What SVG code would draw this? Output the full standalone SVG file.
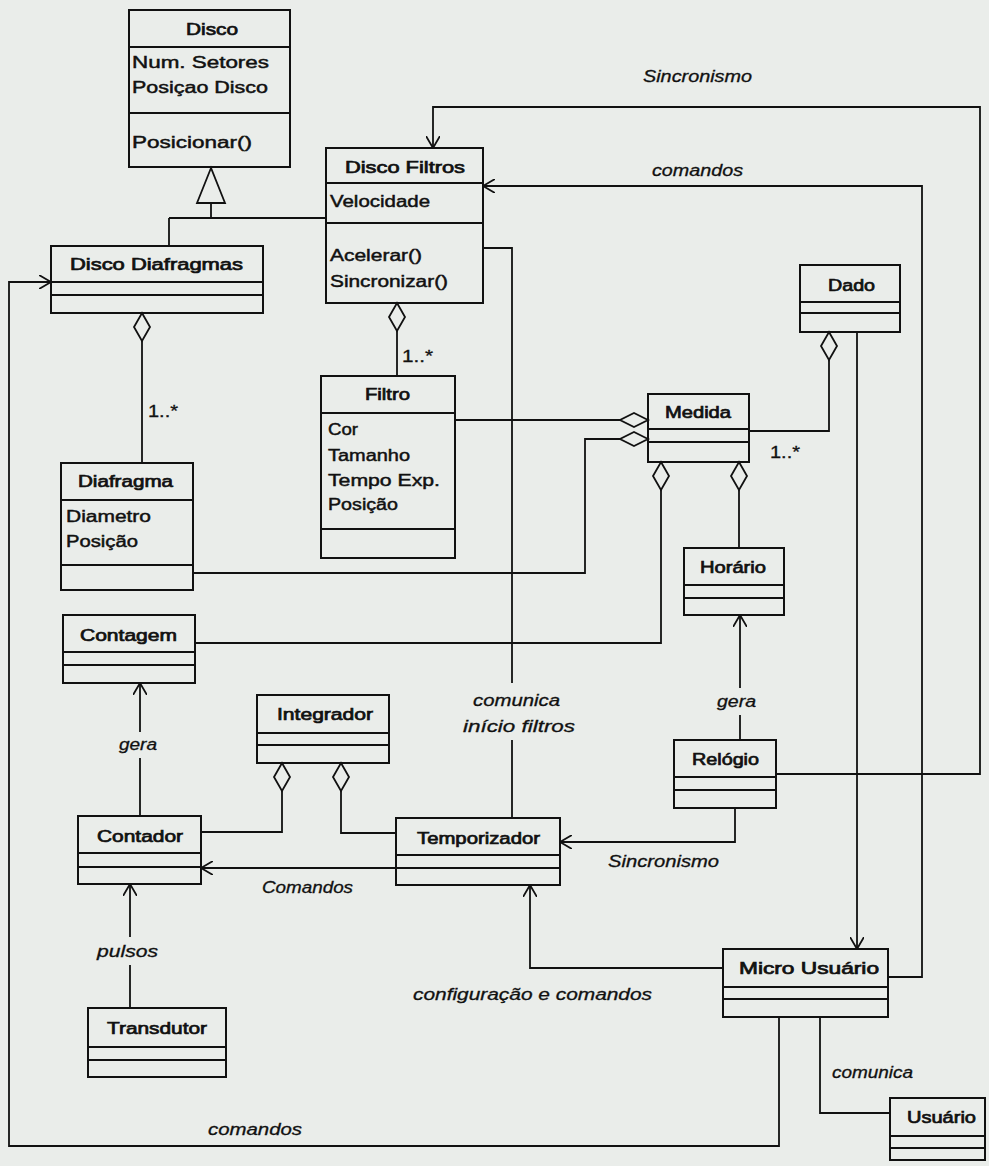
<svg xmlns="http://www.w3.org/2000/svg" xmlns:xlink="http://www.w3.org/1999/xlink" width="989" height="1166" viewBox="0 0 989 1166">
  <style>
    .box { fill: none; stroke: #111; stroke-width: 2; }
    .sep { stroke: #111; stroke-width: 2; }
    .ln { fill: none; stroke: #111; stroke-width: 1.8; }
    .dia { fill: #eaedea; stroke: #111; stroke-width: 1.8; }
    text { font-family: "Liberation Sans", Arial, sans-serif; font-size: 16px; fill: #111; stroke: #111; stroke-width: 0.45; }
    .name { stroke-width: 0.7; }
    .lbl { font-style: italic; stroke-width: 0.3; }
    .mult { font-size: 16px; stroke-width: 0.3; }
  </style>
  <defs>
    <marker id="open" viewBox="0 0 12 14" refX="12" refY="7" markerWidth="12" markerHeight="14" markerUnits="userSpaceOnUse" orient="auto">
      <path d="M0,0 L12,7 L0,14" fill="none" stroke="#111" stroke-width="1.8"/>
    </marker>
    <!-- aggregation diamonds, tip at origin -->
    <path id="dv" d="M0,0 L8,14 L0,28 L-8,14 Z"/>
    <path id="dh" d="M0,0 L-14,-7 L-28,0 L-14,7 Z"/>
  </defs>

  <rect width="989" height="1166" fill="#eaedea"/>

  <!-- connectors -->
  <g id="connectors">
    <!-- generalization Disco -->
    <polygon points="211,168 197,203 225,203" fill="#eaedea" stroke="#111" stroke-width="1.8"/>
    <path class="ln" d="M211,203 V218 M169,218 H326 M169,218 V246"/>

    <!-- Sincronismo: Relógio to Disco Filtros -->
    <path class="ln" d="M776,774 H980 V107 H433 V148" marker-end="url(#open)"/>
    <!-- comandos: Micro Usuário to Disco Filtros -->
    <path class="ln" d="M888,977 H922 V186 H483" marker-end="url(#open)"/>
    <!-- comunica início filtros -->
    <path class="ln" d="M483,248 H512 V683 M512,740 V818"/>
    <!-- comandos: Micro Usuário to Disco Diafragmas -->
    <path class="ln" d="M779,1017 V1146 H9 V282 H51" marker-end="url(#open)"/>

    <!-- Disco Diafragmas - Diafragma -->
    <use href="#dv" x="142" y="313" class="dia"/>
    <path class="ln" d="M142,341 V463"/>
    <!-- Disco Filtros - Filtro -->
    <use href="#dv" x="397" y="303" class="dia"/>
    <path class="ln" d="M397,331 V376"/>

    <!-- Filtro / Diafragma - Medida -->
    <path class="ln" d="M455,420 H620"/>
    <use href="#dh" x="648" y="420" class="dia"/>
    <path class="ln" d="M193,573 H585 V439 H620"/>
    <use href="#dh" x="648" y="439" class="dia"/>

    <!-- Medida - Dado -->
    <path class="ln" d="M749,431 H829 V360"/>
    <use href="#dv" x="829" y="332" class="dia"/>
    <!-- Dado to Micro Usuário -->
    <path class="ln" d="M857,332 V949" marker-end="url(#open)"/>

    <!-- Medida - Contagem -->
    <use href="#dv" x="661" y="462" class="dia"/>
    <path class="ln" d="M661,490 V643 H195"/>
    <!-- Medida - Horário -->
    <use href="#dv" x="739" y="462" class="dia"/>
    <path class="ln" d="M739,490 V548"/>

    <!-- Relógio gera Horário -->
    <path class="ln" d="M740,740 V715 M740,688 V615" marker-end="url(#open)"/>
    <!-- Relógio Sincronismo Temporizador -->
    <path class="ln" d="M735,808 V842 H560" marker-end="url(#open)"/>

    <!-- Integrador parts -->
    <use href="#dv" x="282" y="763" class="dia"/>
    <path class="ln" d="M282,791 V832 H201"/>
    <use href="#dv" x="341" y="763" class="dia"/>
    <path class="ln" d="M341,791 V833 H396"/>

    <!-- Temporizador Comandos Contador -->
    <path class="ln" d="M396,868 H201" marker-end="url(#open)"/>
    <!-- Contador gera Contagem -->
    <path class="ln" d="M140,816 V758 M140,732 V683" marker-end="url(#open)"/>
    <!-- Transdutor pulsos Contador -->
    <path class="ln" d="M130,1008 V965 M130,937 V884" marker-end="url(#open)"/>
    <!-- Micro Usuário configuração e comandos Temporizador -->
    <path class="ln" d="M723,968 H530 V885" marker-end="url(#open)"/>
    <!-- Micro Usuário comunica Usuário -->
    <path class="ln" d="M820,1017 V1113 H890"/>

    <!-- connector labels -->
    <text class="lbl" x="643" y="82" textLength="109" lengthAdjust="spacingAndGlyphs">Sincronismo</text>
    <text class="lbl" x="652" y="176" textLength="91" lengthAdjust="spacingAndGlyphs">comandos</text>
    <text class="lbl" x="473" y="706" textLength="87" lengthAdjust="spacingAndGlyphs">comunica</text>
    <text class="lbl" x="463" y="732" textLength="112" lengthAdjust="spacingAndGlyphs">início filtros</text>
    <text class="mult" x="148" y="417" textLength="30" lengthAdjust="spacingAndGlyphs">1..*</text>
    <text class="mult" x="402" y="362" textLength="31" lengthAdjust="spacingAndGlyphs">1..*</text>
    <text class="mult" x="770" y="458" textLength="30" lengthAdjust="spacingAndGlyphs">1..*</text>
    <text class="lbl" x="119" y="750" textLength="38" lengthAdjust="spacingAndGlyphs">gera</text>
    <text class="lbl" x="717" y="707" textLength="39" lengthAdjust="spacingAndGlyphs">gera</text>
    <text class="lbl" x="608" y="867" textLength="111" lengthAdjust="spacingAndGlyphs">Sincronismo</text>
    <text class="lbl" x="262" y="893" textLength="91" lengthAdjust="spacingAndGlyphs">Comandos</text>
    <text class="lbl" x="97" y="957" textLength="61" lengthAdjust="spacingAndGlyphs">pulsos</text>
    <text class="lbl" x="413" y="1000" textLength="239" lengthAdjust="spacingAndGlyphs">configuração e comandos</text>
    <text class="lbl" x="832" y="1078" textLength="81" lengthAdjust="spacingAndGlyphs">comunica</text>
    <text class="lbl" x="208" y="1135" textLength="94" lengthAdjust="spacingAndGlyphs">comandos</text>
  </g>

  <!-- classes -->
  <g id="disco">
    <rect class="box" x="129" y="10" width="161" height="157"/>
    <path class="sep" d="M129,47 H290 M129,113 H290"/>
    <text class="name" x="186" y="35" textLength="52" lengthAdjust="spacingAndGlyphs">Disco</text>
    <text x="132" y="68" textLength="137" lengthAdjust="spacingAndGlyphs">Num. Setores</text>
    <text x="132" y="93" textLength="136" lengthAdjust="spacingAndGlyphs">Posiçao Disco</text>
    <text x="132" y="148" textLength="120" lengthAdjust="spacingAndGlyphs">Posicionar()</text>
  </g>

  <g id="disco-diafragmas">
    <rect class="box" x="51" y="246" width="212" height="67"/>
    <path class="sep" d="M51,282 H263 M51,295 H263"/>
    <text class="name" x="70" y="270" textLength="173" lengthAdjust="spacingAndGlyphs">Disco Diafragmas</text>
  </g>

  <g id="disco-filtros">
    <rect class="box" x="326" y="148" width="157" height="155"/>
    <path class="sep" d="M326,183 H483 M326,223 H483"/>
    <text class="name" x="345" y="173" textLength="120" lengthAdjust="spacingAndGlyphs">Disco Filtros</text>
    <text x="330" y="207" textLength="100" lengthAdjust="spacingAndGlyphs">Velocidade</text>
    <text x="330" y="261" textLength="92" lengthAdjust="spacingAndGlyphs">Acelerar()</text>
    <text x="330" y="287" textLength="118" lengthAdjust="spacingAndGlyphs">Sincronizar()</text>
  </g>

  <g id="diafragma">
    <rect class="box" x="61" y="463" width="132" height="127"/>
    <path class="sep" d="M61,500 H193 M61,565 H193"/>
    <text class="name" x="78" y="487" textLength="95" lengthAdjust="spacingAndGlyphs">Diafragma</text>
    <text x="66" y="522" textLength="85" lengthAdjust="spacingAndGlyphs">Diametro</text>
    <text x="66" y="547" textLength="72" lengthAdjust="spacingAndGlyphs">Posição</text>
  </g>

  <g id="filtro">
    <rect class="box" x="321" y="376" width="134" height="182"/>
    <path class="sep" d="M321,413 H455 M321,529 H455"/>
    <text class="name" x="365" y="400" textLength="45" lengthAdjust="spacingAndGlyphs">Filtro</text>
    <text x="328" y="435" textLength="30" lengthAdjust="spacingAndGlyphs">Cor</text>
    <text x="328" y="461" textLength="82" lengthAdjust="spacingAndGlyphs">Tamanho</text>
    <text x="328" y="486" textLength="112" lengthAdjust="spacingAndGlyphs">Tempo Exp.</text>
    <text x="328" y="510" textLength="70" lengthAdjust="spacingAndGlyphs">Posição</text>
  </g>

  <g id="medida">
    <rect class="box" x="648" y="394" width="101" height="68"/>
    <path class="sep" d="M648,429 H749 M648,442 H749"/>
    <text class="name" x="665" y="418" textLength="66" lengthAdjust="spacingAndGlyphs">Medida</text>
  </g>

  <g id="dado">
    <rect class="box" x="800" y="265" width="100" height="67"/>
    <path class="sep" d="M800,302 H900 M800,313 H900"/>
    <text class="name" x="828" y="291" textLength="47" lengthAdjust="spacingAndGlyphs">Dado</text>
  </g>

  <g id="horario">
    <rect class="box" x="684" y="548" width="100" height="67"/>
    <path class="sep" d="M684,585 H784 M684,598 H784"/>
    <text class="name" x="700" y="573" textLength="66" lengthAdjust="spacingAndGlyphs">Horário</text>
  </g>

  <g id="relogio">
    <rect class="box" x="674" y="740" width="102" height="68"/>
    <path class="sep" d="M674,777 H776 M674,790 H776"/>
    <text class="name" x="692" y="765" textLength="67" lengthAdjust="spacingAndGlyphs">Relógio</text>
  </g>

  <g id="contagem">
    <rect class="box" x="63" y="615" width="132" height="68"/>
    <path class="sep" d="M63,652 H195 M63,665 H195"/>
    <text class="name" x="80" y="641" textLength="97" lengthAdjust="spacingAndGlyphs">Contagem</text>
  </g>

  <g id="integrador">
    <rect class="box" x="257" y="695" width="132" height="68"/>
    <path class="sep" d="M257,733 H389 M257,745 H389"/>
    <text class="name" x="277" y="720" textLength="96" lengthAdjust="spacingAndGlyphs">Integrador</text>
  </g>

  <g id="contador">
    <rect class="box" x="78" y="816" width="123" height="68"/>
    <path class="sep" d="M78,853 H201 M78,867 H201"/>
    <text class="name" x="97" y="842" textLength="86" lengthAdjust="spacingAndGlyphs">Contador</text>
  </g>

  <g id="temporizador">
    <rect class="box" x="396" y="818" width="164" height="67"/>
    <path class="sep" d="M396,855 H560 M396,868 H560"/>
    <text class="name" x="417" y="844" textLength="123" lengthAdjust="spacingAndGlyphs">Temporizador</text>
  </g>

  <g id="transdutor">
    <rect class="box" x="88" y="1008" width="138" height="69"/>
    <path class="sep" d="M88,1047 H226 M88,1060 H226"/>
    <text class="name" x="107" y="1034" textLength="100" lengthAdjust="spacingAndGlyphs">Transdutor</text>
  </g>

  <g id="micro-usuario">
    <rect class="box" x="723" y="949" width="165" height="68"/>
    <path class="sep" d="M723,987 H888 M723,999 H888"/>
    <text class="name" x="739" y="974" textLength="140" lengthAdjust="spacingAndGlyphs">Micro Usuário</text>
  </g>

  <g id="usuario">
    <rect class="box" x="890" y="1098" width="95" height="62"/>
    <path class="sep" d="M890,1136 H985 M890,1148 H985"/>
    <text class="name" x="907" y="1123" textLength="69" lengthAdjust="spacingAndGlyphs">Usuário</text>
  </g>
</svg>
